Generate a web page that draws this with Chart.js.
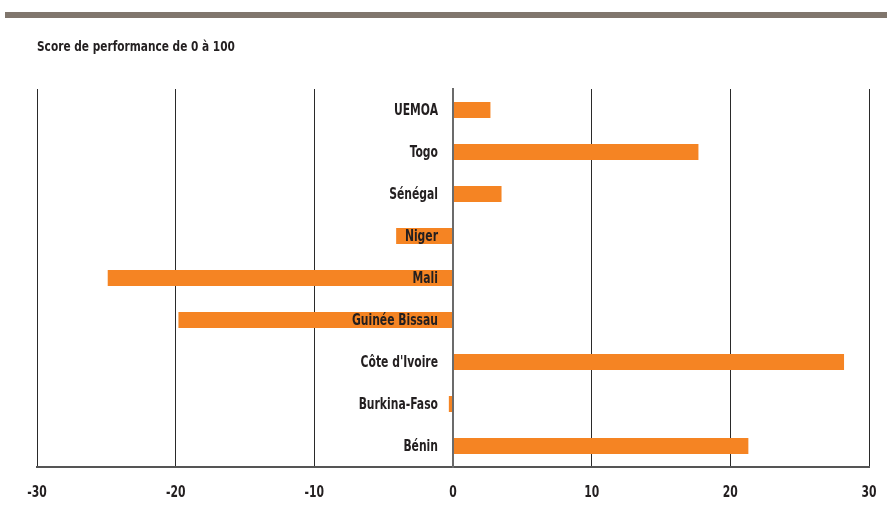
<!DOCTYPE html>
<html>
<head>
<meta charset="utf-8">
<script src="https://cdn.jsdelivr.net/npm/chart.js@4/dist/chart.umd.min.js"></script>
<style>
    html, body { margin: 0; padding: 0; background: #fff; }
    #wrap { width: 887px; height: 520px; }
</style>
</head>
<body>
<div id="wrap"><canvas id="perfChart"></canvas></div>
<script>
// Chart data
const categories = ['UEMOA', 'Togo', 'Sénégal', 'Niger', 'Mali', 'Guinée Bissau', "Côte d'Ivoire", 'Burkina-Faso', 'Bénin'];
const scores = [2.7, 17.7, 3.5, -4.1, -24.9, -19.8, 28.2, -0.3, 21.3];
const xTicks = [-30, -20, -10, 0, 10, 20, 30];
const titleText = 'Score de performance de 0 à 100';

const FONT = '"Liberation Sans Narrow", "DejaVu Sans Condensed", "Open Sans", sans-serif';
const TEXT_COLOR = '#231f20';

// draw text squeezed horizontally to imitate a condensed face
function narrowText(ctx, text, x, y, align, squeeze) {
    ctx.save();
    ctx.translate(x, y);
    ctx.scale(squeeze, 1);
    ctx.textAlign = align;
    ctx.fillText(text, 0, 0);
    ctx.restore();
}

// Gray band and title at the top
const headerPlugin = {
    id: 'header',
    beforeDraw(chart) {
        const ctx = chart.ctx;
        ctx.save();
        ctx.fillStyle = '#fff';
        ctx.fillRect(0, 0, chart.width, chart.height);
        ctx.fillStyle = '#80766d';
        ctx.fillRect(5, 12, chart.width - 5, 6);
        ctx.fillStyle = TEXT_COLOR;
        ctx.font = 'bold 14px ' + FONT;
        ctx.textBaseline = 'middle';
        narrowText(ctx, titleText, 37, 47, 'left', 0.84);
        ctx.restore();
    }
};

// Country names sit just left of the zero line, over the bars; x tick labels under the axis
const labelsPlugin = {
    id: 'labels',
    afterDraw(chart) {
        const ctx = chart.ctx;
        const xs = chart.scales.x;
        const ys = chart.scales.y;
        const x0 = xs.getPixelForValue(0) - 15;
        ctx.save();
        ctx.fillStyle = TEXT_COLOR;
        ctx.textBaseline = 'middle';
        ctx.font = 'bold 15px ' + FONT;
        categories.forEach((name, i) => {
            narrowText(ctx, name, x0, ys.getPixelForValue(i) + 1, 'right', 0.8);
        });
        ctx.font = 'bold 15px ' + FONT;
        xTicks.forEach(v => {
            narrowText(ctx, String(v), xs.getPixelForValue(v), chart.chartArea.bottom + 26, 'center', 0.8);
        });
        ctx.restore();
    }
};

new Chart(document.getElementById('perfChart'), {
    type: 'bar',
    data: {
        labels: categories,
        datasets: [{
            data: scores,
            backgroundColor: '#f58423',
            borderWidth: 0,
            categoryPercentage: 1,
            barPercentage: 0.38
        }]
    },
    options: {
        indexAxis: 'y',
        responsive: true,
        maintainAspectRatio: false,
        animation: false,
        layout: {
            padding: { top: 89, left: 37, right: 18, bottom: 53 }
        },
        plugins: {
            legend: { display: false },
            tooltip: { enabled: false }
        },
        scales: {
            x: {
                min: xTicks[0],
                max: xTicks[xTicks.length - 1],
                afterBuildTicks: function(scale) {
                    scale.ticks = xTicks.map(v => ({ value: v }));
                },
                grid: {
                    drawTicks: false,
                    color: function(c) {
                        return c.tick && c.tick.value === 0 ? '#6b6b6b' : '#2a2a2a';
                    },
                    lineWidth: function(c) {
                        return c.tick && c.tick.value === 0 ? 2 : 1;
                    }
                },
                border: { color: '#555', width: 2 },
                ticks: { display: false }
            },
            y: {
                position: { x: 0 },
                z: 1,
                grid: { display: false, drawTicks: false },
                border: { color: '#6b6b6b', width: 2 },
                ticks: { display: false }
            }
        }
    },
    plugins: [headerPlugin, labelsPlugin]
});
</script>
</body>
</html>
